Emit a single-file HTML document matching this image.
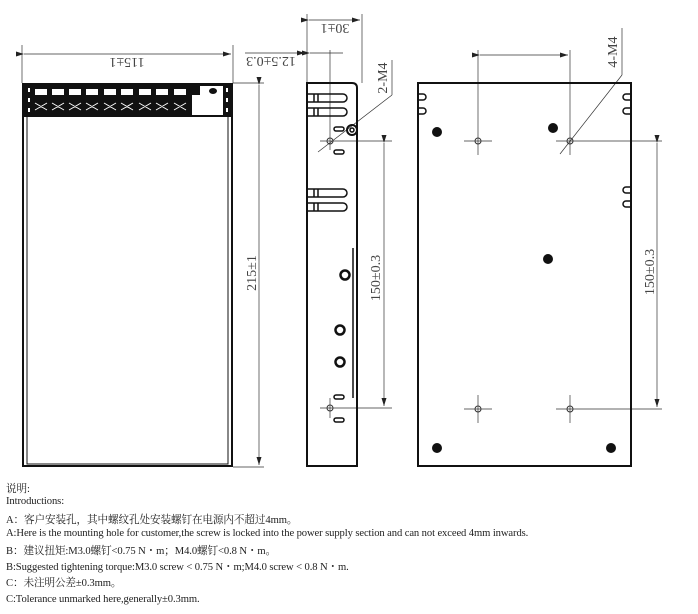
<!DOCTYPE html>
<html><head><meta charset="utf-8"><style>
body{margin:0;background:#fff;width:698px;height:614px;overflow:hidden;position:relative}
.t{position:absolute;left:6px;font-family:"Liberation Serif","Noto Serif CJK SC",serif;font-size:10.6px;color:#222;white-space:nowrap;letter-spacing:-0.1px}
</style></head><body>
<svg width="698" height="614" style="position:absolute;left:0;top:0" font-family="Liberation Serif, serif" font-size="14" fill="none">
<defs>
<marker id="a" markerWidth="8" markerHeight="6" refX="8" refY="3" orient="auto" markerUnits="userSpaceOnUse"><path d="M0,0.5 L8,3 L0,5.5 z" fill="#222"/></marker>
</defs>
<g stroke="#333" stroke-width="0.7">
<line x1="22" y1="45" x2="22" y2="83"/><line x1="233" y1="45" x2="233" y2="83"/>
<line x1="24" y1="54" x2="231" y2="54" marker-start="url(#a)" marker-end="url(#a)"/>
<line x1="233" y1="83" x2="264" y2="83"/><line x1="233" y1="467" x2="264" y2="467"/>
<line x1="259" y1="85" x2="259" y2="465" marker-start="url(#a)" marker-end="url(#a)"/>
<line x1="307" y1="14" x2="307" y2="83"/><line x1="362" y1="14" x2="362" y2="83"/>
<line x1="309" y1="20" x2="360" y2="20" marker-start="url(#a)" marker-end="url(#a)"/>
<line x1="245" y1="53" x2="305" y2="53" marker-end="url(#a)"/>
<line x1="310" y1="53" x2="343" y2="53" marker-start="url(#a)"/>
<line x1="330" y1="50" x2="330" y2="150"/>
<line x1="318" y1="152" x2="392" y2="95"/><line x1="392" y1="95" x2="392" y2="60"/>
<line x1="320" y1="141" x2="392" y2="141"/><line x1="320" y1="408" x2="392" y2="408"/>
<line x1="384" y1="143" x2="384" y2="406" marker-start="url(#a)" marker-end="url(#a)"/>
<line x1="330" y1="398" x2="330" y2="418"/>
<line x1="478" y1="50" x2="478" y2="155"/><line x1="570" y1="50" x2="570" y2="155"/>
<line x1="480" y1="55" x2="568" y2="55" marker-start="url(#a)" marker-end="url(#a)"/>
<line x1="560" y1="154" x2="622" y2="75"/><line x1="622" y1="75" x2="622" y2="28"/>
<line x1="464" y1="141" x2="492" y2="141"/><line x1="556" y1="141" x2="662" y2="141"/>
<line x1="464" y1="409" x2="492" y2="409"/><line x1="556" y1="409" x2="662" y2="409"/>
<line x1="478" y1="395" x2="478" y2="423"/><line x1="570" y1="395" x2="570" y2="423"/>
<line x1="657" y1="143" x2="657" y2="407" marker-start="url(#a)" marker-end="url(#a)"/>
</g>
<g fill="#444" stroke="none">
<text transform="translate(127,61) rotate(180)" text-anchor="middle" dominant-baseline="middle">115±1</text>
<text transform="translate(335,27) rotate(180)" text-anchor="middle" dominant-baseline="middle">30±1</text>
<text transform="translate(271,60) rotate(180)" text-anchor="middle" dominant-baseline="middle">12.5±0.3</text>
<text transform="translate(253,273) rotate(-90)" text-anchor="middle" dominant-baseline="middle">215±1</text>
<text transform="translate(377,278) rotate(-90)" text-anchor="middle" dominant-baseline="middle">150±0.3</text>
<text transform="translate(651,272) rotate(-90)" text-anchor="middle" dominant-baseline="middle">150±0.3</text>
<text transform="translate(384,78) rotate(-90)" text-anchor="middle" dominant-baseline="middle">2-M4</text>
<text transform="translate(614,52) rotate(-90)" text-anchor="middle" dominant-baseline="middle">4-M4</text>
</g>
<rect x="23" y="84" width="209" height="382" stroke="#111" stroke-width="2"/>
<rect x="27" y="84" width="201" height="380" stroke="#111" stroke-width="1"/>
<rect x="23" y="84" width="209" height="33" fill="#111"/>
<g fill="#fff">
<rect x="35" y="89" width="12" height="6"/><rect x="52" y="89" width="12" height="6"/><rect x="69" y="89" width="12" height="6"/><rect x="86" y="89" width="12" height="6"/><rect x="104" y="89" width="12" height="6"/><rect x="121" y="89" width="12" height="6"/><rect x="139" y="89" width="12" height="6"/><rect x="156" y="89" width="12" height="6"/><rect x="174" y="89" width="12" height="6"/>
<rect x="28" y="88" width="2" height="4"/><rect x="28" y="98" width="2" height="4"/><rect x="28" y="108" width="2" height="4"/>
<rect x="226" y="88" width="2" height="4"/><rect x="226" y="98" width="2" height="4"/><rect x="226" y="108" width="2" height="4"/>
</g>
<g stroke="#fff" stroke-width="1">
<path d="M35,103 l12,7 M47,103 l-12,7 M52,103 l12,7 M64,103 l-12,7 M69,103 l12,7 M81,103 l-12,7 M86,103 l12,7 M98,103 l-12,7 M104,103 l12,7 M116,103 l-12,7 M121,103 l12,7 M133,103 l-12,7 M139,103 l12,7 M151,103 l-12,7 M156,103 l12,7 M168,103 l-12,7 M174,103 l12,7 M186,103 l-12,7"/>
</g>
<rect x="192" y="86" width="31" height="29" fill="#fff"/>
<ellipse cx="213" cy="91" rx="4" ry="3" fill="#111"/>
<rect x="192" y="86" width="8" height="9" fill="#111"/>
<path d="M307,466 V83 H352 Q357,83 357,88 V466 Z" stroke="#111" stroke-width="2"/>
<g stroke="#111" stroke-width="1.5">
<path d="M307,94 H343 a4,4 0 0 1 0,8 H307"/><path d="M307,108 H343 a4,4 0 0 1 0,8 H307"/>
<path d="M307,189 H343 a4,4 0 0 1 0,8 H307"/><path d="M307,203 H343 a4,4 0 0 1 0,8 H307"/>
<line x1="314" y1="94" x2="314" y2="102"/><line x1="318" y1="94" x2="318" y2="102"/>
<line x1="314" y1="108" x2="314" y2="116"/><line x1="318" y1="108" x2="318" y2="116"/>
<line x1="314" y1="189" x2="314" y2="197"/><line x1="318" y1="189" x2="318" y2="197"/>
<line x1="314" y1="203" x2="314" y2="211"/><line x1="318" y1="203" x2="318" y2="211"/>
<circle cx="352" cy="130" r="5" stroke-width="2"/><circle cx="352" cy="130" r="2"/>
<rect x="334" y="127" width="10" height="4" rx="2"/><rect x="334" y="150" width="10" height="4" rx="2"/>
<rect x="334" y="395" width="10" height="4" rx="2"/><rect x="334" y="418" width="10" height="4" rx="2"/>
<line x1="353" y1="248" x2="353" y2="398"/>
<circle cx="345" cy="275" r="4.5" stroke-width="2.5"/>
<circle cx="340" cy="330" r="4.5" stroke-width="2.5"/>
<circle cx="340" cy="362" r="4.5" stroke-width="2.5"/>
</g>
<circle cx="330" cy="141" r="3" stroke="#333"/><circle cx="330" cy="408" r="3" stroke="#333"/>
<rect x="418" y="83" width="213" height="383" stroke="#111" stroke-width="2"/>
<g stroke="#111" stroke-width="1.5">
<path d="M418,94 h5 a3,3 0 0 1 0,6 h-5"/><path d="M418,108 h5 a3,3 0 0 1 0,6 h-5"/>
<path d="M631,94 h-5 a3,3 0 0 0 0,6 h5"/><path d="M631,108 h-5 a3,3 0 0 0 0,6 h5"/>
<path d="M631,187 h-5 a3,3 0 0 0 0,6 h5"/><path d="M631,201 h-5 a3,3 0 0 0 0,6 h5"/>
</g>
<g fill="#111">
<circle cx="437" cy="132" r="5"/><circle cx="553" cy="128" r="5"/><circle cx="548" cy="259" r="5"/><circle cx="437" cy="448" r="5"/><circle cx="611" cy="448" r="5"/>
</g>
<g stroke="#333">
<circle cx="478" cy="141" r="3"/><circle cx="570" cy="141" r="3"/><circle cx="478" cy="409" r="3"/><circle cx="570" cy="409" r="3"/>
</g>
</svg>
<div class="t" style="top:481px">说明:</div>
<div class="t" style="top:496px">Introductions:</div>
<div class="t" style="top:512px">A：客户安装孔，其中螺纹孔处安装螺钉在电源内不超过4mm。</div>
<div class="t" style="top:528px">A:Here is the mounting hole for customer,the screw is locked into the power supply section and can not exceed 4mm inwards.</div>
<div class="t" style="top:543px">B：建议扭矩:M3.0螺钉&lt;0.75 N・m；M4.0螺钉&lt;0.8 N・m。</div>
<div class="t" style="top:559px">B:Suggested tightening torque:M3.0 screw &lt; 0.75 N・m;M4.0 screw &lt; 0.8 N・m.</div>
<div class="t" style="top:575px">C：未注明公差±0.3mm。</div>
<div class="t" style="top:594px">C:Tolerance unmarked here,generally±0.3mm.</div>
</body></html>
